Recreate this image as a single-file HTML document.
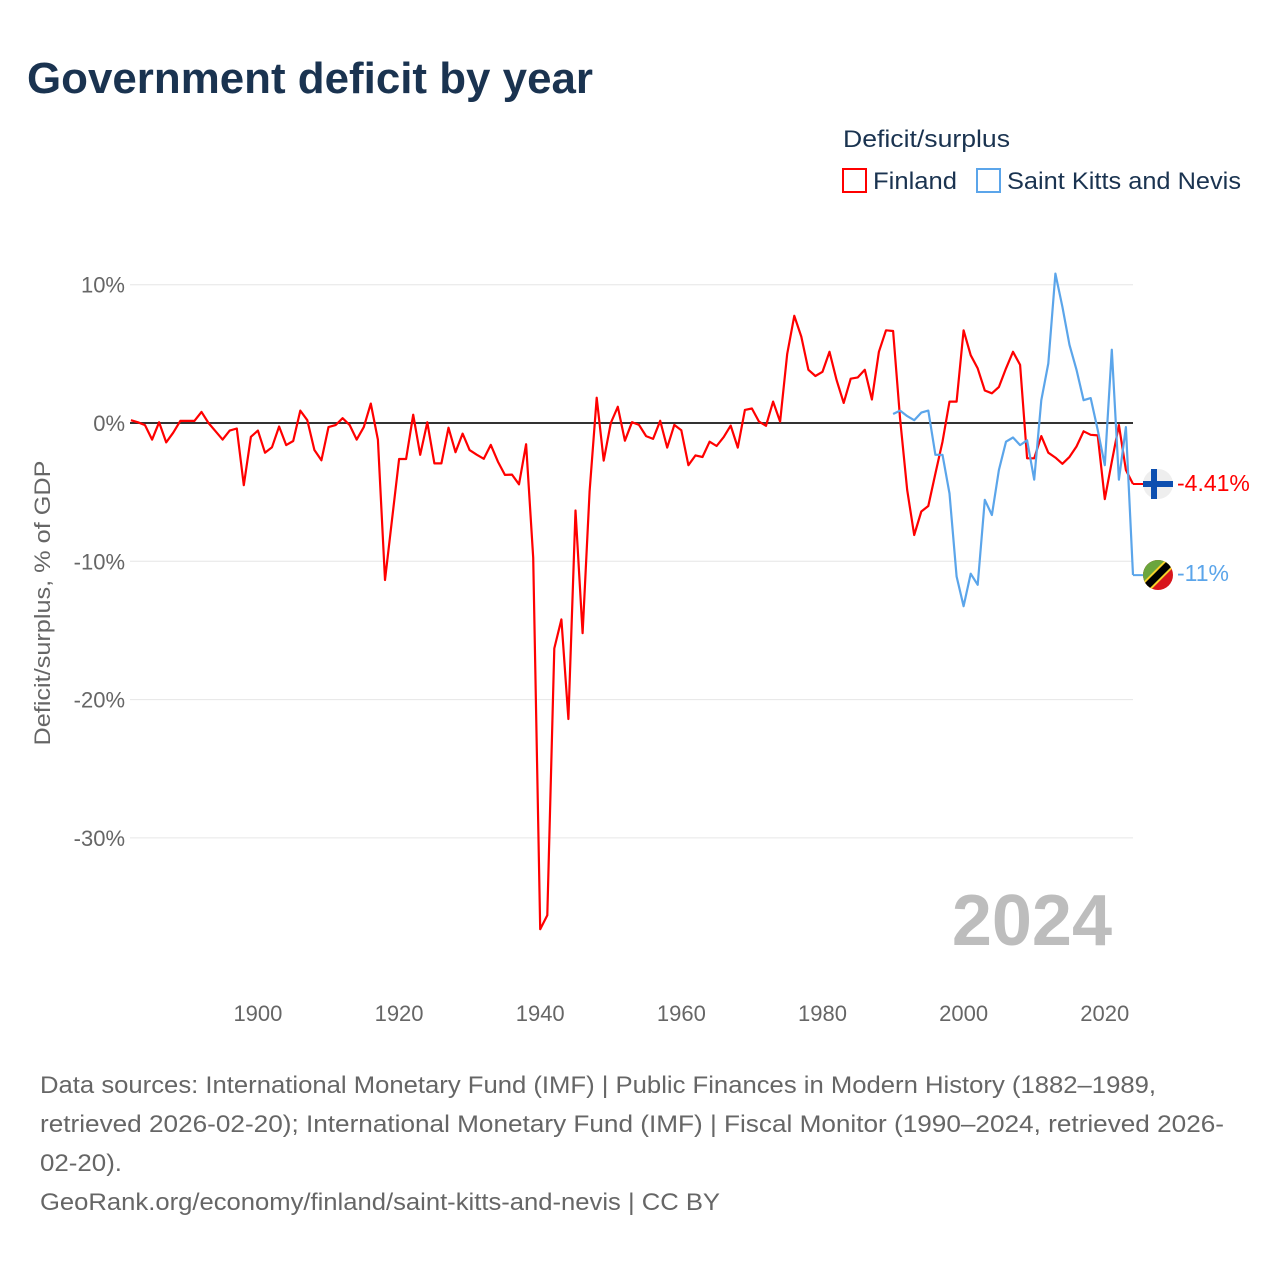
<!DOCTYPE html>
<html><head><meta charset="utf-8"><style>
html,body{margin:0;padding:0;background:#fff;}
svg{display:block;font-family:"Liberation Sans",sans-serif;}
</style></head><body>
<svg id="chart" width="1280" height="1280" viewBox="0 0 1280 1280" xmlns="http://www.w3.org/2000/svg">
<text x="27" y="93" font-size="44" font-weight="bold" fill="#1a3350" textLength="566" lengthAdjust="spacingAndGlyphs">Government deficit by year</text>
<g>
<text x="843" y="147" font-size="24" fill="#1a3350" textLength="167" lengthAdjust="spacingAndGlyphs">Deficit/surplus</text>
<g><rect x="843" y="169" width="23" height="23" fill="none" stroke="#ff0000" stroke-width="2"/><text x="873" y="189" font-size="24" fill="#1a3350" textLength="84" lengthAdjust="spacingAndGlyphs">Finland</text></g>
<g><rect x="977" y="169" width="23" height="23" fill="none" stroke="#5ba5ea" stroke-width="2"/><text x="1007" y="189" font-size="24" fill="#1a3350" textLength="234" lengthAdjust="spacingAndGlyphs">Saint Kitts and Nevis</text></g>
</g>
<g id="grid"></g>
<g id="axes"></g>
<text transform="translate(50,603) rotate(-90)" text-anchor="middle" font-size="22" fill="#666" textLength="285" lengthAdjust="spacingAndGlyphs">Deficit/surplus, % of GDP</text>
<text x="1112" y="945" text-anchor="end" font-size="72" font-weight="bold" fill="#bdbdbd">2024</text>
<g id="series"></g>
<g>
<g><circle cx="1158" cy="484" r="15" fill="#eeeeee"/><rect x="1143" y="481" width="30" height="6" fill="#0d4fb0"/><rect x="1151" y="469" width="6" height="30" fill="#0d4fb0"/></g>
<text x="1177" y="491" font-size="23" fill="#ff0000">-4.41%</text>
<g><clipPath id="cc"><circle cx="1158" cy="575" r="15"/></clipPath><g clip-path="url(#cc)"><rect x="1140" y="557" width="36" height="36" fill="#d8151c"/><polygon points="1140,557 1176,557 1140,593" fill="#6aa53d"/><line x1="1140" y1="593" x2="1176" y2="557" stroke="#f6d12a" stroke-width="11"/><line x1="1140" y1="593" x2="1176" y2="557" stroke="#000" stroke-width="7"/></g></g>
<text x="1177" y="581" font-size="23" fill="#5ba5ea">-11%</text>
</g>
<g font-size="24" fill="#666">
<text x="40" y="1093" textLength="1116" lengthAdjust="spacingAndGlyphs">Data sources: International Monetary Fund (IMF) | Public Finances in Modern History (1882–1989,</text>
<text x="40" y="1132" textLength="1184" lengthAdjust="spacingAndGlyphs">retrieved 2026-02-20); International Monetary Fund (IMF) | Fiscal Monitor (1990–2024, retrieved 2026-</text>
<text x="40" y="1171" textLength="82" lengthAdjust="spacingAndGlyphs">02-20).</text>
<text x="40" y="1210" textLength="680" lengthAdjust="spacingAndGlyphs">GeoRank.org/economy/finland/saint-kitts-and-nevis | CC BY</text>
</g>
</svg>
<script>
const finlandStart = 1882;
const finlandValues = [0.2,0.05,-0.15,-1.2,0.05,-1.4,-0.7,0.15,0.15,0.15,0.8,0,-0.6,-1.2,-0.55,-0.4,-4.5,-1.0,-0.55,-2.15,-1.75,-0.25,-1.6,-1.3,0.9,0.2,-1.95,-2.7,-0.3,-0.15,0.35,-0.15,-1.2,-0.3,1.4,-1.2,-11.35,-7,-2.6,-2.6,0.6,-2.3,0.05,-2.92,-2.92,-0.34,-2.11,-0.77,-1.96,-2.29,-2.59,-1.58,-2.79,-3.75,-3.73,-4.43,-1.53,-9.74,-36.6,-35.6,-16.3,-14.2,-21.4,-6.33,-15.2,-4.94,1.83,-2.72,0,1.17,-1.28,0.06,-0.14,-0.95,-1.15,0.16,-1.78,-0.14,-0.52,-3.05,-2.34,-2.46,-1.35,-1.66,-1.02,-0.19,-1.78,0.95,1.05,0.1,-0.2,1.55,0.1,5.0,7.75,6.25,3.85,3.4,3.7,5.15,3.1,1.45,3.2,3.3,3.85,1.7,5.15,6.7,6.65,0.3,-4.85,-8.1,-6.4,-6.0,-3.65,-1.35,1.55,1.55,6.7,4.9,3.95,2.35,2.15,2.6,3.95,5.15,4.2,-2.55,-2.55,-0.95,-2.15,-2.5,-2.95,-2.45,-1.7,-0.6,-0.85,-0.9,-5.5,-2.8,-0.15,-3.4,-4.41];
const sknStart = 1990;
const sknValues = [0.65,0.9,0.5,0.2,0.75,0.9,-2.3,-2.3,-5.1,-11.1,-13.25,-10.9,-11.7,-5.55,-6.65,-3.4,-1.35,-1.05,-1.6,-1.25,-4.1,1.65,4.3,10.8,8.4,5.65,3.85,1.65,1.8,-0.5,-3.05,5.3,-4.1,-0.3,-11.0];
const yTicks = [10,0,-10,-20,-30];
const yTickLabels = ["10%","0%","-10%","-20%","-30%"];
const xTicks = [1900,1920,1940,1960,1980,2000,2020];

const NS="http://www.w3.org/2000/svg";
const x0=130.9, x1=1133;
function xs(yr){return x0+(yr-1882)*(x1-x0)/(2024-1882);}
function ys(v){return 423-v*13.83;}
function mk(tag,attrs,parent){const e=document.createElementNS(NS,tag);for(const k in attrs)e.setAttribute(k,attrs[k]);parent.appendChild(e);return e;}
const grid=document.getElementById('grid'), axes=document.getElementById('axes'), series=document.getElementById('series');
yTicks.forEach((t,i)=>{
  if(t!==0){const l=mk('line',{x1:130,x2:1133,y1:ys(t),y2:ys(t),stroke:'#e6e6e6','stroke-width':1},grid);
  
  }
  const tx=mk('text',{x:125,y:ys(t)+8,'text-anchor':'end','font-size':22,fill:'#666'},axes);
  tx.textContent=yTickLabels[i];
  
  
});
xTicks.forEach(t=>{
  const tx=mk('text',{x:xs(t),y:1021,'text-anchor':'middle','font-size':22,fill:'#666'},axes);
  tx.textContent=t;
  
  
});
const zl=mk('line',{x1:130,x2:1133,y1:ys(0),y2:ys(0),stroke:'#333','stroke-width':2},axes);


function pts(start,vals){return vals.map((v,i)=>xs(start+i).toFixed(1)+','+ys(v).toFixed(1)).join(' ');}
const fl=mk('polyline',{points:pts(finlandStart,finlandValues),fill:'none',stroke:'#ff0000','stroke-width':2.2,'stroke-linejoin':'round'},series);


const sl=mk('polyline',{points:pts(sknStart,sknValues),fill:'none',stroke:'#5ba5ea','stroke-width':2.2,'stroke-linejoin':'round'},series);


const fe=mk('line',{x1:xs(2024),x2:1143,y1:ys(finlandValues[finlandValues.length-1]),y2:ys(finlandValues[finlandValues.length-1]),stroke:'#ff0000','stroke-width':2},series);


const se=mk('line',{x1:xs(2024),x2:1143,y1:ys(sknValues[sknValues.length-1]),y2:ys(sknValues[sknValues.length-1]),stroke:'#5ba5ea','stroke-width':2},series);


</script>
</body></html>
